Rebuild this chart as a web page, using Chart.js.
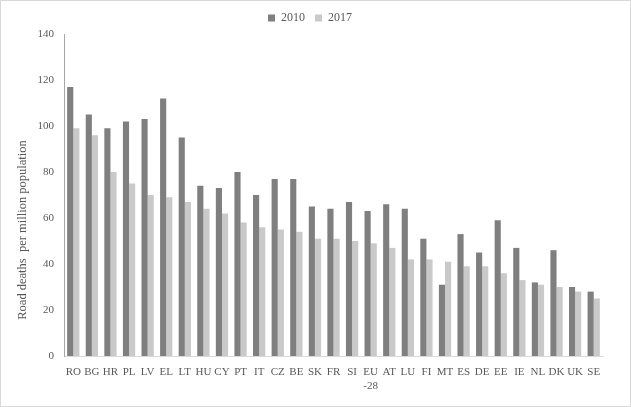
<!DOCTYPE html>
<html><head><meta charset="utf-8">
<script src="https://cdn.jsdelivr.net/npm/chart.js@4/dist/chart.umd.min.js"></script>
<style>
html,body{margin:0;padding:0;background:#fff;}
#wrap{position:absolute;left:0;top:0;width:629px;height:405px;border:1px solid #d9d9d9;}
</style></head>
<body><div id="wrap"><canvas id="c" width="629" height="405"></canvas></div>
<script>
const categories = ['RO','BG','HR','PL','LV','EL','LT','HU','CY','PT','IT','CZ','BE','SK','FR','SI',['EU','-28'],'AT','LU','FI','MT','ES','DE','EE','IE','NL','DK','UK','SE'];
const values2010 = [117,105,99,102,103,112,95,74,73,80,70,77,77,65,64,67,63,66,64,51,31,53,45,59,47,32,46,30,28];
const values2017 = [99,96,80,75,70,69,67,64,62,58,56,55,54,51,51,50,49,47,42,42,41,39,39,36,33,31,30,28,25];
const yTicks = [0,20,40,60,80,100,120,140];
const seriesNames = ['2010','2017'];
const yTitle = 'Road deaths  per million population';

const fam = '"Liberation Serif", "Times New Roman", serif';
const font = {family:fam, size:11};

const yTitlePlugin = {
  id:'yTitlePlugin',
  afterDraw(chart){
    const ctx = chart.ctx, a = chart.chartArea;
    ctx.save();
    ctx.translate(22, a.bottom - 126);
    ctx.rotate(-Math.PI/2);
    ctx.font = '12.5px ' + fam;
    ctx.fillStyle = '#595959';
    ctx.textAlign = 'center';
    ctx.textBaseline = 'middle';
    ctx.fillText(yTitle, 0, 0);
    ctx.restore();
  }
};

new Chart(document.getElementById('c'), {
  type:'bar',
  data:{labels:categories, datasets:[
    {label:seriesNames[0], data:values2010, backgroundColor:'#7f7f7f', categoryPercentage:0.66, barPercentage:1},
    {label:seriesNames[1], data:values2017, backgroundColor:'#c9c9c9', categoryPercentage:0.66, barPercentage:1}
  ]},
  options:{
    responsive:false, animation:false,
    layout:{padding:{left:16,right:27,top:1,bottom:0}},
    plugins:{
      legend:{position:'top', labels:{boxWidth:7, boxHeight:7, color:'#595959', font:{family:fam,size:12}, padding:10}},
      tooltip:{enabled:false}
    },
    scales:{
      x:{grid:{display:false, drawTicks:false}, border:{color:'#d9d9d9'},
         ticks:{color:'#595959', font:font, maxRotation:0, autoSkip:false, padding:10},
         afterFit(s){ s.height = 50; }},
      y:{min:0, max:140, grid:{display:false, drawTicks:false}, border:{color:'#a6a6a6'},
         afterBuildTicks(s){ s.ticks = yTicks.map(v=>({value:v})); },
         ticks:{color:'#595959', font:font, padding:10},
         title:{display:false, text:yTitle},
         afterFit(s){ s.width = 47; }}
    }
  },
  plugins:[yTitlePlugin]
});
</script></body></html>
